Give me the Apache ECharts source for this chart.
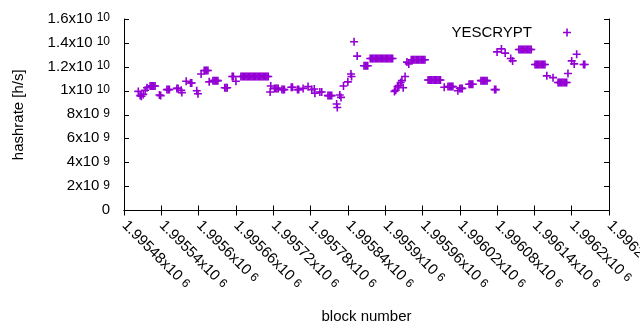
<!DOCTYPE html>
<html>
<head>
<meta charset="utf-8">
<script src="https://cdn.jsdelivr.net/npm/echarts@6/dist/echarts.min.js"></script>
<style>
  html, body { margin: 0; padding: 0; background: #fff; }
  #chart { width: 640px; height: 330px; }
</style>
</head>
<body>
<div id="chart"></div>
<script>
// block numbers, one line per difficulty window
var blockNumber = [
  1995503, 1995506, 1995508, 1995511, 1995514, 1995517,
  1995522, 1995524, 1995526, 1995528, 1995530,
  1995537, 1995539,
  1995549, 1995551, 1995553,
  1995565, 1995567, 1995572, 1995573,
  1995580, 1995587, 1995589,
  1995597, 1995599,
  1995604, 1995609, 1995611, 1995613, 1995615,
  1995617, 1995623, 1995625, 1995627, 1995629, 1995631,
  1995642, 1995644, 1995646,
  1995654, 1995656, 1995660,
  1995668, 1995670, 1995672, 1995674, 1995676, 1995678, 1995680, 1995682, 1995684, 1995686, 1995688, 1995690,
  1995692, 1995694, 1995696, 1995698, 1995700, 1995702, 1995704, 1995706, 1995708, 1995710, 1995712,
  1995715, 1995716, 1995722, 1995724, 1995726, 1995728,
  1995734, 1995736, 1995738,
  1995749, 1995751,
  1995759, 1995761,
  1995768, 1995776, 1995782, 1995786, 1995787,
  1995795, 1995798,
  1995808, 1995810, 1995812, 1995814,
  1995822, 1995823, 1995827, 1995829,
  1995833, 1995840, 1995845, 1995846, 1995850, 1995855,
  1995866, 1995868, 1995870, 1995872,
  1995876, 1995878, 1995880, 1995882, 1995884, 1995886, 1995888, 1995890, 1995892, 1995894,
  1995896, 1995898, 1995900, 1995902, 1995904, 1995906, 1995908, 1995910, 1995912,
  1995915, 1995917, 1995920, 1995922, 1995925, 1995927, 1995929, 1995932,
  1995935, 1995938,
  1995942, 1995944, 1995946, 1995948, 1995950, 1995952, 1995954, 1995956, 1995958, 1995960, 1995962, 1995964,
  1995969, 1995971, 1995973, 1995975, 1995977, 1995979, 1995981, 1995983, 1995985, 1995987, 1995989,
  1995995,
  1996001, 1996003, 1996005, 1996007, 1996009,
  1996017, 1996020, 1996022, 1996024,
  1996035, 1996037, 1996039, 1996041,
  1996054, 1996056, 1996058, 1996060, 1996062, 1996064,
  1996076, 1996078,
  1996080, 1996087, 1996093,
  1996102, 1996105,
  1996115, 1996117, 1996119, 1996121, 1996123, 1996125, 1996127, 1996129, 1996131, 1996133, 1996135,
  1996141, 1996143, 1996145, 1996147, 1996149, 1996151, 1996153, 1996155, 1996157,
  1996160, 1996170,
  1996178, 1996180, 1996182, 1996184, 1996186, 1996188, 1996190, 1996192,
  1996194, 1996200, 1996204, 1996208,
  1996219, 1996221
];

// hashrate [h/s], same order as blockNumber
var hashrate = [
  9.95e9, 9.6e9, 9.55e9, 9.7e9, 10.05e9, 10.25e9,
  10.4e9, 10.4e9, 10.4e9, 10.4e9, 10.4e9,
  9.65e9, 9.6e9,
  10.1e9, 10.1e9, 10.1e9,
  10.2e9, 10.2e9, 10.05e9, 9.85e9,
  10.8e9, 10.65e9, 10.65e9,
  10.0e9, 9.75e9,
  11.4e9, 11.7e9, 11.7e9, 11.7e9, 11.7e9,
  10.75e9, 10.85e9, 10.85e9, 10.85e9, 10.85e9, 10.85e9,
  10.25e9, 10.25e9, 10.25e9,
  11.2e9, 11.2e9, 10.8e9,
  11.2e9, 11.2e9, 11.2e9, 11.2e9, 11.2e9, 11.2e9, 11.2e9, 11.2e9, 11.2e9, 11.2e9, 11.2e9, 11.2e9,
  11.2e9, 11.2e9, 11.2e9, 11.2e9, 11.2e9, 11.2e9, 11.2e9, 11.2e9, 11.2e9, 11.2e9, 11.2e9,
  9.9e9, 10.4e9, 10.2e9, 10.2e9, 10.2e9, 10.2e9,
  10.1e9, 10.1e9, 10.1e9,
  10.3e9, 10.3e9,
  10.1e9, 10.1e9,
  10.2e9, 10.35e9, 10.1e9, 10.15e9, 9.8e9,
  9.9e9, 9.9e9,
  9.6e9, 9.6e9, 9.6e9, 9.6e9,
  8.9e9, 8.6e9, 9.65e9, 9.45e9,
  10.4e9, 10.75e9, 11.4e9, 11.2e9, 14.1e9, 12.9e9,
  12.1e9, 12.1e9, 12.1e9, 12.1e9,
  12.7e9, 12.7e9, 12.7e9, 12.7e9, 12.7e9, 12.7e9, 12.7e9, 12.7e9, 12.7e9, 12.7e9,
  12.7e9, 12.7e9, 12.7e9, 12.7e9, 12.7e9, 12.7e9, 12.7e9, 12.7e9, 12.7e9,
  9.95e9, 10.05e9, 10.35e9, 10.45e9, 10.7e9, 10.85e9, 10.25e9, 11.2e9,
  12.4e9, 12.25e9,
  12.6e9, 12.6e9, 12.6e9, 12.6e9, 12.6e9, 12.6e9, 12.6e9, 12.6e9, 12.6e9, 12.6e9, 12.6e9, 12.6e9,
  10.9e9, 10.9e9, 10.9e9, 10.9e9, 10.9e9, 10.9e9, 10.9e9, 10.9e9, 10.9e9, 10.9e9, 10.9e9,
  10.3e9,
  10.35e9, 10.35e9, 10.35e9, 10.35e9, 10.35e9,
  10.0e9, 10.2e9, 10.2e9, 10.2e9,
  10.55e9, 10.55e9, 10.55e9, 10.55e9,
  10.85e9, 10.85e9, 10.85e9, 10.85e9, 10.85e9, 10.85e9,
  10.1e9, 10.1e9,
  13.25e9, 13.5e9, 13.15e9,
  12.7e9, 12.5e9,
  13.45e9, 13.45e9, 13.45e9, 13.45e9, 13.45e9, 13.45e9, 13.45e9, 13.45e9, 13.45e9, 13.45e9, 13.45e9,
  12.2e9, 12.2e9, 12.2e9, 12.2e9, 12.2e9, 12.2e9, 12.2e9, 12.2e9, 12.2e9,
  11.25e9, 11.1e9,
  10.7e9, 10.7e9, 10.7e9, 10.7e9, 10.7e9, 10.7e9, 10.7e9, 10.7e9,
  11.45e9, 12.5e9, 12.25e9, 13.05e9,
  12.2e9, 12.2e9
];

var seriesName = 'YESCRYPT';
var xMin = 1995480, xMax = 1996260, xStep = 60;
var yMin = 0, yMax = 1.6e10, yStep = 2e9;

var FONT = 'Liberation Sans';
var crossPath = 'path://M0,4H10V6H0Z M4,0H6V10H4Z';

var points = [];
for (var i = 0; i < blockNumber.length; i++) {
  points.push([blockNumber[i], hashrate[i]]);
}

// gnuplot style 1.6x10^10
function sci(v) {
  if (v === 0) return '{m|0}';
  var e = Math.floor(Math.log10(v) + 1e-9);
  var m = parseFloat((v / Math.pow(10, e)).toPrecision(6));
  return '{m|' + m + 'x10}{s|' + e + '}';
}
var rich = {
  m: { fontFamily: FONT, fontSize: 15, lineHeight: 14, verticalAlign: 'bottom', color: '#000' },
  s: { fontFamily: FONT, fontSize: 12, lineHeight: 11, verticalAlign: 'top', padding: [0, 0, 8, 4], color: '#000' }
};

var black = { lineStyle: { color: '#000', width: 1 } };
var tick = { inside: true, length: 5, lineStyle: { color: '#000', width: 1 } };

var myChart = echarts.init(document.getElementById('chart'), null, { renderer: 'canvas' });
myChart.setOption({
  animation: false,
  backgroundColor: '#fff',
  grid: { left: 124, right: 31, top: 19, bottom: 119.5, containLabel: false, outerBoundsMode: 'none' },
  legend: {
    data: [seriesName],
    right: 64,
    top: 20,
    align: 'right',
    icon: crossPath,
    itemWidth: 8,
    itemHeight: 8,
    textStyle: { fontFamily: FONT, fontSize: 15, color: '#000', padding: [0, 26, 0, 0] }
  },
  xAxis: [{
    type: 'value',
    min: xMin, max: xMax, interval: xStep,
    name: 'block number',
    nameLocation: 'middle',
    nameGap: 99,
    nameTextStyle: { fontFamily: FONT, fontSize: 15, color: '#000' },
    axisLine: black,
    axisTick: tick,
    splitLine: { show: false },
    axisLabel: { rotate: -45, margin: 13, formatter: sci, rich: rich, showMinLabel: true, showMaxLabel: true }
  }, {
    type: 'value', position: 'top',
    min: xMin, max: xMax, interval: xStep,
    axisLine: black, axisTick: tick,
    splitLine: { show: false }, axisLabel: { show: false }
  }],
  yAxis: [{
    type: 'value',
    min: yMin, max: yMax, interval: yStep,
    name: 'hashrate [h/s]',
    nameLocation: 'middle',
    nameGap: 98,
    nameTextStyle: { fontFamily: FONT, fontSize: 15, color: '#000' },
    axisLine: black,
    axisTick: tick,
    splitLine: { show: false },
    axisLabel: { margin: 14, formatter: sci, rich: rich }
  }, {
    type: 'value', position: 'right',
    min: yMin, max: yMax, interval: yStep,
    axisLine: black, axisTick: tick,
    splitLine: { show: false }, axisLabel: { show: false }
  }],
  series: [{
    name: seriesName,
    type: 'scatter',
    xAxisIndex: 0,
    yAxisIndex: 0,
    symbol: crossPath,
    symbolSize: 8,
    itemStyle: { color: '#9400d3', opacity: 1 },
    data: points
  }]
});
</script>
</body>
</html>
